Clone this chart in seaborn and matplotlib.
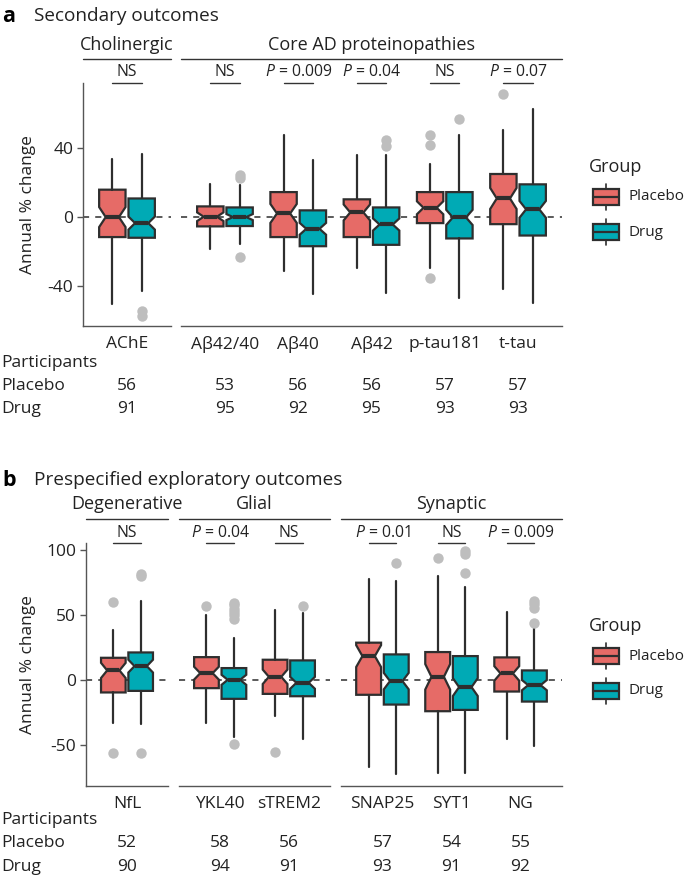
import numpy as np
import matplotlib
matplotlib.use('Agg')
import matplotlib.pyplot as plt
import matplotlib.transforms as mtransforms
from matplotlib.patches import Rectangle
from matplotlib.lines import Line2D
import seaborn as sns

# --- DATA: panel a (secondary outcomes) ---
a_facets = ['Cholinergic', 'Core AD proteinopathies']
a_facet_sizes = [1, 5]
a_markers = ['AChE', 'Aβ42/40', 'Aβ40', 'Aβ42', 'p-tau181', 't-tau']
a_pvals = ['NS', 'NS', '$P$ = 0.009', '$P$ = 0.04', 'NS', '$P$ = 0.07']
a_n_placebo = [56, 53, 56, 56, 57, 57]
a_n_drug = [91, 95, 92, 95, 93, 93]

a_pl_whislo = [-50.2, -18.4, -31.2, -29.3, -29.3, -41.7]
a_pl_q1 = [-11.4, -5.2, -11.4, -11.4, -3.3, -3.9]
a_pl_med = [0.2, 0.4, 2.3, 2.9, 5.6, 11.0]
a_pl_q3 = [16.1, 6.4, 14.7, 10.5, 14.7, 25.2]
a_pl_whishi = [33.9, 19.6, 47.9, 36.4, 31.0, 50.6]
a_pl_fliers = [[], [], [], [], [47.7, 42.2, -34.9], [71.5]]

a_dr_whislo = [-42.8, -15.3, -44.4, -44.0, -46.7, -49.8]
a_dr_q1 = [-11.8, -5.0, -16.7, -15.9, -12.2, -10.5]
a_dr_med = [-3.3, 0.2, -6.6, -4.1, 0.0, 4.7]
a_dr_q3 = [11.0, 5.8, 4.1, 5.8, 14.7, 19.2]
a_dr_whishi = [36.8, 18.6, 33.5, 36.4, 47.9, 62.8]
a_dr_fliers = [[-54.5, -57.0], [24.8, 23.1, -22.7], [], [44.8, 41.5], [57.4], []]

# --- DATA: panel b (prespecified exploratory outcomes) ---
b_facets = ['Degenerative', 'Glial', 'Synaptic']
b_facet_sizes = [1, 2, 3]
b_markers = ['NfL', 'YKL40', 'sTREM2', 'SNAP25', 'SYT1', 'NG']
b_pvals = ['NS', '$P$ = 0.04', 'NS', '$P$ = 0.01', 'NS', '$P$ = 0.009']
b_n_placebo = [52, 58, 56, 57, 54, 55]
b_n_drug = [90, 94, 91, 93, 91, 92]

b_pl_whislo = [-33.1, -33.1, -27.9, -66.9, -71.5, -45.4]
b_pl_q1 = [-9.7, -6.4, -10.8, -11.5, -24.1, -9.0]
b_pl_med = [7.2, 5.1, 2.3, 18.2, 2.3, 4.9]
b_pl_q3 = [16.9, 17.4, 15.4, 28.5, 21.3, 17.2]
b_pl_whishi = [38.2, 49.5, 53.3, 77.7, 79.5, 52.0]
b_pl_fliers = [[59.5, -56.2], [56.4], [-55.4], [], [93.8], []]

b_dr_whislo = [-33.6, -43.8, -45.4, -72.0, -71.5, -51.0]
b_dr_q1 = [-8.5, -14.6, -12.6, -19.0, -23.1, -16.7]
b_dr_med = [10.5, 0.0, -2.3, -1.0, -5.6, -4.1]
b_dr_q3 = [21.0, 9.0, 14.9, 19.5, 18.2, 7.2]
b_dr_whishi = [60.8, 32.0, 51.3, 75.6, 71.5, 42.6]
b_dr_fliers = [[81.0, 79.7, -56.2], [59.2, 57.2, 54.6, 52.0, 49.5, 46.4, -49.5],
               [56.4], [89.5], [99.0, 96.4, 82.3], [60.5, 57.9, 55.4, 43.8]]

groups = ['Placebo', 'Drug']

# --- STYLE ---
sns.set_theme(style='white')
FONT = ['Open Sans', 'DejaVu Sans']
plt.rcParams['font.family'] = FONT
plt.rcParams['mathtext.fontset'] = 'custom'
plt.rcParams['mathtext.rm'] = 'Open Sans'
plt.rcParams['mathtext.it'] = 'Open Sans:italic'
plt.rcParams['axes.unicode_minus'] = False

cores = {'Placebo': '#E66B67', 'Drug': '#00AAB5'}
EDGE = '#2E2E2E'
AXC = '#555555'
FLIER = '#BEBEBE'
TXT = '#222222'

W, H = 685, 877
fig = plt.figure(figsize=(W / 100, H / 100), dpi=100)
# transform in pixel units, origin at top-left
px = mtransforms.Affine2D().scale(1 / W, -1 / H).translate(0, 1) + fig.transFigure


def make_stats(whislo, q1, med, q3, whishi, fliers, n):
    stats = []
    for i in range(len(med)):
        half = 1.58 * (q3[i] - q1[i]) / np.sqrt(n[i])
        stats.append(dict(whislo=whislo[i], q1=q1[i], med=med[i], q3=q3[i],
                          whishi=whishi[i], fliers=fliers[i],
                          cilo=med[i] - half, cihi=med[i] + half))
    return stats


def draw_panel(facets, sizes, facet_px, y_top, y_bot, ylim, yticks, markers, pvals,
               n_pl, n_dr, st_pl, st_dr, letter, title, title_y, head_y, line_y, sig_y,
               rows_y, legend_y):
    start = 0
    for k, (nome, size) in enumerate(zip(facets, sizes)):
        x0, x1 = facet_px[k]
        ax = fig.add_axes([x0 / W, 1 - y_bot / H, (x1 - x0) / W, (y_bot - y_top) / H])
        ax.set_facecolor('none')
        idx = list(range(start, start + size))
        pos = np.arange(size)
        for g, st, off in [('Placebo', st_pl, -0.2), ('Drug', st_dr, 0.2)]:
            ax.bxp([st[i] for i in idx], positions=pos + off, widths=0.36,
                   patch_artist=True, shownotches=True, showcaps=False,
                   boxprops=dict(facecolor=cores[g], edgecolor=EDGE, linewidth=1.6),
                   medianprops=dict(color=EDGE, linewidth=3.0),
                   whiskerprops=dict(color=EDGE, linewidth=1.6),
                   flierprops=dict(marker='o', markerfacecolor=FLIER, markeredgecolor='none',
                                   markersize=7.5),
                   manage_ticks=False, zorder=3)
        ax.axhline(0, color=EDGE, linewidth=1.1, dashes=(4, 4), zorder=1)
        ax.set_xlim(-0.6, size - 0.4)
        ax.set_ylim(*ylim)
        ax.set_xticks(pos)
        ax.set_xticklabels([markers[i] for i in idx], fontsize=12.5, color=TXT)
        ax.tick_params(axis='x', length=4, width=1, color=AXC, pad=3)
        for s in ['top', 'right']:
            ax.spines[s].set_visible(False)
        ax.spines['bottom'].set_color(AXC)
        ax.spines['bottom'].set_linewidth(1)
        if k == 0:
            ax.set_yticks(yticks)
            ax.set_yticklabels([str(t) for t in yticks], fontsize=12.5, color=TXT)
            ax.tick_params(axis='y', length=4, width=1, color=AXC, pad=3, left=True)
            ax.spines['left'].set_color(AXC)
            ax.spines['left'].set_linewidth(1)
        else:
            ax.set_yticks([])
            ax.spines['left'].set_visible(False)
        # facet header + line
        fig.text((x0 + x1) / 2, head_y, nome, transform=px, ha='center', va='center',
                 fontsize=13, color=TXT)
        fig.add_artist(Line2D([x0, x1], [line_y, line_y], transform=px, color='#333333',
                              linewidth=1))
        # significance labels and participant counts
        trans = mtransforms.blended_transform_factory(ax.transData, ax.transAxes)
        for j, i in enumerate(idx):
            ax.plot([j - 0.2, j + 0.2], [1, 1], transform=trans, color='#333333',
                    linewidth=1, clip_on=False)
            cx = ax.transData.transform((j, 0))[0]
            xpx = cx / fig.dpi * 100
            fig.text(xpx, sig_y, pvals[i], transform=px, ha='center', va='center',
                     fontsize=11.3, color=TXT)
            fig.text(xpx, rows_y[1], str(n_pl[i]), transform=px, ha='center', va='center',
                     fontsize=12.5, color=TXT)
            fig.text(xpx, rows_y[2], str(n_dr[i]), transform=px, ha='center', va='center',
                     fontsize=12.5, color=TXT)
        start += size

    # titles and table labels
    fig.text(2, title_y, letter, transform=px, ha='left', va='center', fontsize=15.5,
             fontweight='bold', color='black')
    fig.text(34, title_y, title, transform=px, ha='left', va='center', fontsize=13.7,
             color=TXT)
    for lab, yy in zip(['Participants', 'Placebo', 'Drug'], rows_y):
        fig.text(1, yy, lab, transform=px, ha='left', va='center', fontsize=12.5, color=TXT)
    fig.text(28, (y_top + y_bot) / 2, 'Annual % change', transform=px, rotation=90,
             ha='center', va='center', fontsize=12.5, color=TXT)

    # legend
    fig.text(589, legend_y, 'Group', transform=px, ha='left', va='center', fontsize=13,
             color=TXT)
    for g, cy in zip(groups, [legend_y + 30, legend_y + 65]):
        fig.add_artist(Line2D([606, 606], [cy - 13, cy + 13], transform=px, color=EDGE,
                              linewidth=1.2, zorder=1))
        fig.add_artist(Rectangle((593, cy - 8), 26, 16, transform=px, facecolor=cores[g],
                                 edgecolor=EDGE, linewidth=1.6, zorder=2))
        fig.add_artist(Line2D([593, 619], [cy, cy], transform=px, color=EDGE, linewidth=1.6,
                              zorder=3))
        fig.text(629, cy, g, transform=px, ha='left', va='center', fontsize=11, color=TXT)


st_a_pl = make_stats(a_pl_whislo, a_pl_q1, a_pl_med, a_pl_q3, a_pl_whishi, a_pl_fliers, a_n_placebo)
st_a_dr = make_stats(a_dr_whislo, a_dr_q1, a_dr_med, a_dr_q3, a_dr_whishi, a_dr_fliers, a_n_drug)
st_b_pl = make_stats(b_pl_whislo, b_pl_q1, b_pl_med, b_pl_q3, b_pl_whishi, b_pl_fliers, b_n_placebo)
st_b_dr = make_stats(b_dr_whislo, b_dr_q1, b_dr_med, b_dr_q3, b_dr_whishi, b_dr_fliers, b_n_drug)

draw_panel(a_facets, a_facet_sizes, [(83, 171), (181, 562)], 83, 326, (-63, 78), [-40, 0, 40],
           a_markers, a_pvals, a_n_placebo, a_n_drug, st_a_pl, st_a_dr,
           'a', 'Secondary outcomes', 16, 45, 59, 72, [363, 386, 409], 167)

draw_panel(b_facets, b_facet_sizes, [(86, 168), (179, 330), (341, 562)], 543, 786, (-81.5, 105),
           [-50, 0, 50, 100], b_markers, b_pvals, b_n_placebo, b_n_drug, st_b_pl, st_b_dr,
           'b', 'Prespecified exploratory outcomes', 480, 504, 519, 533, [820, 843, 867], 626)

fig.savefig('out.png', dpi=100)
